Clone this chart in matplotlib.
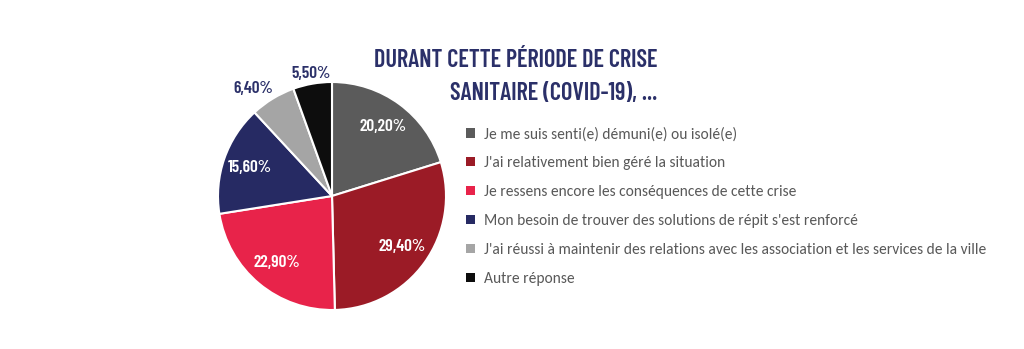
import numpy as np
import matplotlib

matplotlib.use("Agg")
import matplotlib.pyplot as plt

CATEGORIES = [
    "Je me suis senti(e) démuni(e) ou isolé(e)",
    "J'ai relativement bien géré la situation",
    "Je ressens encore les conséquences de cette crise",
    "Mon besoin de trouver des solutions de répit s'est renforcé",
    "J'ai réussi à maintenir des relations avec les association et les services de la ville",
    "Autre réponse",
]
VALUES = [20.2, 29.4, 22.9, 15.6, 6.4, 5.5]
COLORS = ["#5b5b5b", "#9b1b26", "#e8234a", "#262a63", "#a5a5a5", "#0d0d0d"]
TITLE = "DURANT CETTE PÉRIODE DE CRISE\nSANITAIRE (COVID-19), ..."

NAVY = "#2b3069"
COND = ["Barlow Condensed", "DejaVu Sans"]
BODY = ["Carlito", "DejaVu Sans"]

W, H = 1024, 349
fig = plt.figure(figsize=(W / 100, H / 100), dpi=100)
fig.patch.set_facecolor("white")

# pie axes: center (332,196) px, radius 114 px
cx, cy, r = 332, 196, 114
ax = fig.add_axes([(cx - r) / W, (H - cy - r) / H, 2 * r / W, 2 * r / H])
wedges, texts, autotexts = ax.pie(
    VALUES, colors=COLORS, startangle=90, counterclock=False,
    autopct=lambda p: f"{p:.2f}%".replace(".", ","), pctdistance=0.76,
    wedgeprops=dict(edgecolor="white", linewidth=1.5),
    textprops=dict(color="white", fontsize=12.5, fontweight="semibold", family=COND),
)
ax.set_xlim(-1, 1); ax.set_ylim(-1, 1)
ax.set_aspect("auto")

# small slices: labels outside, navy (distance, angle shift in degrees)
for w, t, (d, shift) in zip(wedges[4:], autotexts[4:], ((1.17, 5), (1.09, 0))):
    ang = np.deg2rad((w.theta1 + w.theta2) / 2 + shift)
    t.set_position((d * np.cos(ang), d * np.sin(ang)))
    t.set_color(NAVY)

fig.text(657 / W, 1 - 49 / H, TITLE, ha="right", va="top", color=NAVY,
         fontsize=17.5, fontweight="semibold", family=COND, linespacing=1.55)

leg = fig.legend(wedges, CATEGORIES, loc="upper left",
                 bbox_to_anchor=(452 / W, 1 - 113 / H), frameon=False,
                 labelspacing=0.96, handlelength=0.55,
                 handleheight=0.55, handletextpad=0.6, labelcolor="#595959",
                 prop=dict(family=BODY, size=11.2))
for h in leg.legend_handles:
    h.set_edgecolor("none")

fig.savefig("out.png", dpi=100)
